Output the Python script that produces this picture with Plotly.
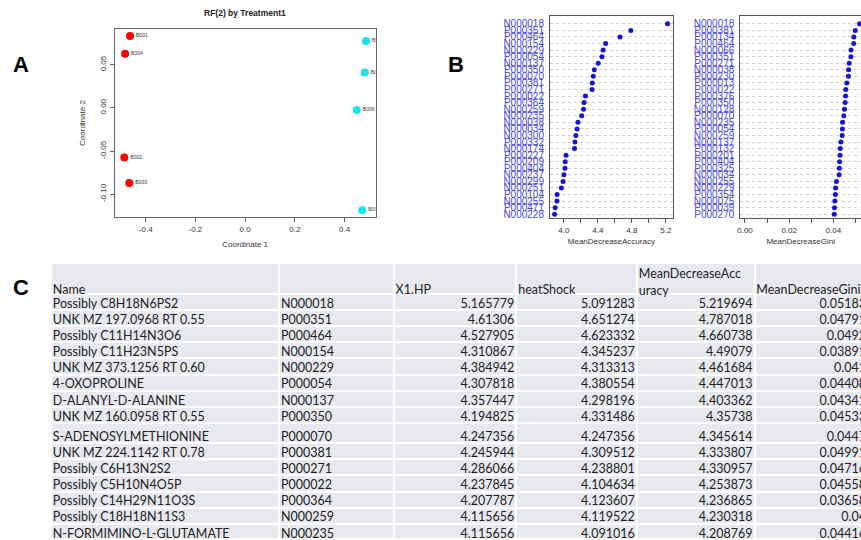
import plotly.graph_objects as go

# ---------------- Panel A data (MDS coordinates) ----------------
sample_ids = ["B001", "B004", "B002", "B003", "B005", "B007", "B006", "B008"]
coord1 = [-0.463, -0.483, -0.486, -0.466, 0.486, 0.481, 0.449, 0.471]
coord2 = [0.0835, 0.0627, -0.0574, -0.087, 0.0777, 0.0411, -0.0023, -0.1186]
treatment = ["X1.HP", "X1.HP", "X1.HP", "X1.HP", "heatShock", "heatShock", "heatShock", "heatShock"]
a_xticks = [-0.4, -0.2, 0.0, 0.2, 0.4]
a_xticklabels = ["-0.4", "-0.2", "0.0", "0.2", "0.4"]
a_yticks = [-0.10, -0.05, 0.0, 0.05]
a_yticklabels = ["-0.10", "-0.05", "0.00", "0.05"]

# ---------------- Panel B data (variable importance) ----------------
acc_names = ["N000018", "P000351", "P000464", "N000154", "N000229", "P000054", "N000137", "P000350",
             "P000070", "P000381", "P000271", "P000022", "P000364", "N000259", "N000235", "N000038",
             "N000034", "N000300", "P000332", "N000174", "P000227", "P000209", "P000404", "N000237",
             "N000299", "N000251", "P000104", "N000255", "P000471", "N000228"]
acc_vals = [5.219694, 4.787018, 4.660738, 4.49079, 4.461684, 4.447013, 4.403362, 4.35738,
            4.345614, 4.333807, 4.330957, 4.253873, 4.236865, 4.230318, 4.208769, 4.165,
            4.155, 4.14, 4.13, 4.125, 4.025, 4.015, 4.012, 4.0,
            3.99, 3.97, 3.92, 3.918, 3.897, 3.89]
gini_names = ["N000018", "P000381", "P000134", "P000464", "N000066", "P000351", "P000271", "N000038",
              "P000230", "P000013", "P000022", "P000376", "P000350", "N000128", "P000070", "N000235",
              "P000054", "N000259", "N000137", "P000132", "P000201", "P000404", "P000325", "N000034",
              "N000255", "N000229", "P000354", "N000075", "P000039", "P000270"]
gini_vals = [0.05183, 0.04991, 0.04925, 0.0492, 0.0480, 0.04791, 0.04716, 0.0469,
             0.0468, 0.0461, 0.04558, 0.0455, 0.04533, 0.0450, 0.0447, 0.04416,
             0.04408, 0.0440, 0.04341, 0.0431, 0.0430, 0.0428, 0.0427, 0.0426,
             0.0414, 0.041, 0.0409, 0.0407, 0.0405, 0.0404]
acc_ticks = [4.0, 4.2, 4.4, 4.6, 4.8, 5.0, 5.2]
acc_ticklabels = ["4.0", "", "4.4", "", "4.8", "", "5.2"]
gini_ticks = [0.0, 0.01, 0.02, 0.03, 0.04, 0.05]
gini_ticklabels = ["0.00", "", "0.02", "", "0.04", ""]

# ---------------- Panel C data (table) ----------------
tbl_header = ["Name", "", "X1.HP", "heatShock", "MeanDecreaseAcc<br>uracy", "MeanDecreaseGini"]
tbl_names = ["Possibly C8H18N6PS2", "UNK MZ 197.0968 RT 0.55", "Possibly C11H14N3O6",
             "Possibly C11H23N5PS", "UNK MZ 373.1256 RT 0.60", "4-OXOPROLINE", "D-ALANYL-D-ALANINE",
             "UNK MZ 160.0958 RT 0.55", "S-ADENOSYLMETHIONINE", "UNK MZ 224.1142 RT 0.78",
             "Possibly C6H13N2S2", "Possibly C5H10N4O5P", "Possibly C14H29N11O3S",
             "Possibly C18H18N11S3", "N-FORMIMINO-L-GLUTAMATE"]
tbl_ids = ["N000018", "P000351", "P000464", "N000154", "N000229", "P000054", "N000137", "P000350",
           "P000070", "P000381", "P000271", "P000022", "P000364", "N000259", "N000235"]
tbl_x1hp = [5.165779, 4.61306, 4.527905, 4.310867, 4.384942, 4.307818, 4.357447, 4.194825,
            4.247356, 4.245944, 4.286066, 4.237845, 4.207787, 4.115656, 4.115656]
tbl_heat = [5.091283, 4.651274, 4.623332, 4.345237, 4.313313, 4.380554, 4.298196, 4.331486,
            4.247356, 4.309512, 4.238801, 4.104634, 4.123607, 4.119522, 4.091016]
tbl_mda = [5.219694, 4.787018, 4.660738, 4.49079, 4.461684, 4.447013, 4.403362, 4.35738,
           4.345614, 4.333807, 4.330957, 4.253873, 4.236865, 4.230318, 4.208769]
tbl_gini = [0.05183, 0.04791, 0.0492, 0.03891, 0.041, 0.04408, 0.04341, 0.04533,
            0.0447, 0.04991, 0.04716, 0.04558, 0.03658, 0.04, 0.04416]

# ---------------- layout constants (pixel-like table grid) ----------------
W, H = 861, 540
col_edges = [48, 277, 392, 515, 636, 754, 880]
row_h = 16.2
row_edges = [264, 295]
for i in range(15):
    row_edges.append(row_edges[-1] + (20.2 if i == 8 else row_h))

fig = go.Figure()

# ---- Panel A ----
grp_colors = {"X1.HP": "#ff0000", "heatShock": "#19e6e6"}
for grp in ["X1.HP", "heatShock"]:
    idx = [i for i, t in enumerate(treatment) if t == grp]
    fig.add_trace(go.Scatter(
        x=[coord1[i] for i in idx], y=[coord2[i] for i in idx],
        text=[sample_ids[i] for i in idx], mode="markers+text",
        textposition="middle right", textfont=dict(size=5, color="#333", family="Liberation Sans"),
        marker=dict(size=8, color=grp_colors[grp]), cliponaxis=True,
        xaxis="x", yaxis="y", showlegend=False, hoverinfo="skip"))

# ---- Panel B ----
fig.add_trace(go.Scatter(x=acc_vals, y=acc_names, mode="markers",
                         marker=dict(size=5, color="#1414d2"),
                         xaxis="x2", yaxis="y2", showlegend=False))
fig.add_trace(go.Scatter(x=gini_vals, y=gini_names, mode="markers",
                         marker=dict(size=5, color="#1414d2"),
                         xaxis="x3", yaxis="y3", showlegend=False))

# ---- Panel C (table) ----
n_rows = len(tbl_names) + 1
fig.add_trace(go.Heatmap(
    x=col_edges, y=row_edges, z=[[0] * (len(col_edges) - 1) for _ in range(n_rows)],
    colorscale=[[0, "#e7e9ee"], [1, "#e7e9ee"]], showscale=False, xgap=2, ygap=2,
    xaxis="x4", yaxis="y4", hoverinfo="skip"))

text_y = [row_edges[i + 1] - 5.5 for i in range(n_rows)]
hdr_y = [text_y[0] + 2] * len(tbl_header)
hdr_y[4] = text_y[0] - 5
tfont = dict(family="Lato", size=12.5, color="#1e1e1e")
fig.add_trace(go.Scatter(x=[e + 2 for e in col_edges[:-1]], y=hdr_y, text=tbl_header,
                         mode="text", textposition="middle right", textfont=tfont,
                         xaxis="x4", yaxis="y4", showlegend=False, hoverinfo="skip", cliponaxis=True))
left_cols = [(tbl_names, 0), (tbl_ids, 1)]
for vals, ci in left_cols:
    fig.add_trace(go.Scatter(x=[col_edges[ci] + 2] * len(vals), y=text_y[1:], text=vals,
                             mode="text", textposition="middle right", textfont=tfont,
                             xaxis="x4", yaxis="y4", showlegend=False, hoverinfo="skip", cliponaxis=True))
right_cols = [(tbl_x1hp, 3, 0), (tbl_heat, 4, 0), (tbl_mda, 5, 0), (tbl_gini, 6, -12)]
for vals, ci, extra in right_cols:
    fig.add_trace(go.Scatter(x=[col_edges[ci] - 2 + extra] * len(vals), y=text_y[1:],
                             text=[str(v) for v in vals],
                             mode="text", textposition="middle left", textfont=tfont,
                             xaxis="x4", yaxis="y4", showlegend=False, hoverinfo="skip", cliponaxis=True))

tickfont = dict(family="Liberation Sans", size=8, color="#333")
titlefont = dict(family="Liberation Sans", size=8, color="#333")
boxline = dict(showline=True, linecolor="#666", linewidth=1, mirror=True, zeroline=False, showgrid=False)
label_font = dict(family="Liberation Sans", size=22, color="black")

fig.update_layout(
    width=W, height=H, margin=dict(l=0, r=0, t=0, b=0),
    paper_bgcolor="white", plot_bgcolor="white",
    xaxis=dict(domain=[112 / W, 374 / W], range=[-0.525, 0.525], anchor="y",
               tickvals=a_xticks, ticktext=a_xticklabels, ticks="outside", ticklen=4, tickcolor="#666",
               tickfont=tickfont, title=dict(text="Coordinate 1", font=titlefont, standoff=8), **boxline),
    yaxis=dict(domain=[1 - 218 / H, 1 - 29 / H], range=[-0.1267, 0.0916], anchor="x",
               tickvals=a_yticks, ticktext=a_yticklabels, ticks="outside", ticklen=4, tickcolor="#666",
               tickangle=-90, tickfont=tickfont,
               title=dict(text="Coordinate 2", font=titlefont, standoff=12), **boxline),
    xaxis2=dict(domain=[549 / W, 672 / W], range=[3.837, 5.28], anchor="y2",
                tickvals=acc_ticks, ticktext=acc_ticklabels, ticks="outside", ticklen=4, tickcolor="#555",
                tickfont=tickfont, title=dict(text="MeanDecreaseAccuracy", font=titlefont, standoff=4),
                showline=True, linecolor="#555", linewidth=1.2, mirror=True, zeroline=False, showgrid=False),
    yaxis2=dict(domain=[1 - 219 / H, 1 - 16 / H], anchor="x2", type="category",
                categoryorder="array", categoryarray=acc_names, range=[29.6, -1.2],
                tickvals=acc_names, ticks="", ticklabelstandoff=3,
                tickfont=dict(family="Liberation Sans", size=10, color="#4848e6"),
                showgrid=True, gridcolor="#cfcfcf", griddash="dot", gridwidth=1,
                showline=True, linecolor="#555", linewidth=1.2, mirror=True, zeroline=False),
    xaxis3=dict(domain=[740 / W, 1.0], range=[-0.00207, 0.0525], anchor="y3",
                tickvals=gini_ticks, ticktext=gini_ticklabels, ticks="outside", ticklen=4, tickcolor="#555",
                tickfont=tickfont, title=dict(text="MeanDecreaseGini", font=titlefont, standoff=4),
                showline=True, linecolor="#555", linewidth=1.2, mirror=True, zeroline=False, showgrid=False),
    yaxis3=dict(domain=[1 - 219 / H, 1 - 16 / H], anchor="x3", type="category",
                categoryorder="array", categoryarray=gini_names, range=[29.6, -1.2],
                tickvals=gini_names, ticks="", ticklabelstandoff=3,
                tickfont=dict(family="Liberation Sans", size=10, color="#4848e6"),
                showgrid=True, gridcolor="#cfcfcf", griddash="dot", gridwidth=1,
                showline=True, linecolor="#555", linewidth=1.2, mirror=False, zeroline=False),
    xaxis4=dict(domain=[48 / W, 1.0], range=[48, W], anchor="y4", visible=False, fixedrange=True),
    yaxis4=dict(domain=[0, 1 - 262 / H], range=[H, 262], anchor="x4", visible=False, fixedrange=True),
    annotations=[
        dict(text="<b>RF(2) by Treatment1</b>", x=243 / W, y=1 - 13 / H, xref="paper", yref="paper",
             xanchor="center", yanchor="middle", showarrow=False,
             font=dict(family="Liberation Sans", size=8.5, color="#222")),
        dict(text="<b>A</b>", x=18 / W, y=1 - 65 / H, xref="paper", yref="paper", showarrow=False,
             xanchor="center", yanchor="middle", font=label_font),
        dict(text="<b>B</b>", x=455 / W, y=1 - 65 / H, xref="paper", yref="paper", showarrow=False,
             xanchor="center", yanchor="middle", font=label_font),
        dict(text="<b>C</b>", x=18 / W, y=1 - 289 / H, xref="paper", yref="paper", showarrow=False,
             xanchor="center", yanchor="middle", font=label_font),
    ],
)

fig.write_html("out.html", config={"displayModeBar": False},
               post_script="document.body.style.margin='0px';document.body.style.overflow='hidden';")
